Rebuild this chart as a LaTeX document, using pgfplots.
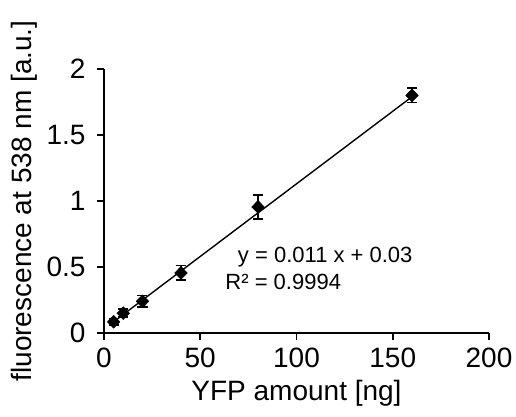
\documentclass[border=0pt]{standalone}
\usepackage{pgfplots}
\pgfplotsset{compat=1.18}
\usepackage{fontspec}
\setmainfont{Liberation Sans}
\begin{document}
\begin{tikzpicture}
\path[use as bounding box] (-104pt,-83pt) rectangle (412pt,333pt);
\begin{axis}[
  at={(0pt,0pt)}, anchor=south west,
  scale only axis, width=385pt, height=264pt,
  xmin=0, xmax=200, ymin=0, ymax=2,
  axis x line*=bottom, axis y line*=left,
  axis line style={line width=1.8pt, -},
  xtick={0,50,...,200}, ytick={0,0.5,1,1.5,2},
  tick align=outside, major tick length=7pt,
  tick style={line width=1.8pt, black},
  /pgf/number format/assume math mode=true,
  ticklabel style={font=\fontsize{28}{30}\selectfont},
  yticklabel style={/pgf/number format/fixed, xshift=-8pt},
  xticklabel style={yshift=-4pt},
  label style={font=\fontsize{28}{30}\selectfont},
  xlabel={YFP amount [ng]},
  ylabel={fluorescence at 538 nm [a.u.]},
  xlabel style={yshift=-6pt},
  ylabel style={yshift=2pt},
  clip=false,
]
\addplot[no marks, line width=1.4pt, black] coordinates {(4,0.074) (160,1.79)};
\addplot[only marks, black, mark=diamond*, mark size=6.5pt,
  mark options={xscale=1.3, fill=black},
  error bars/.cd, y dir=both, y explicit,
  error bar style={line width=1.6pt, black},
  error mark options={rotate=90, mark size=5pt, line width=1.6pt, black}]
  table[x=x, y=y, y error=e] {
x y e
5 0.085 0.025
10 0.15 0.03
20 0.24 0.045
40 0.455 0.055
80 0.955 0.09
160 1.80 0.055
};
\node[anchor=west, font=\fontsize{22}{24}\selectfont, inner sep=0pt] at (axis cs:69.5,0.576) {y = 0.011 x + 0.03};
\node[anchor=west, font=\fontsize{22}{24}\selectfont, inner sep=0pt] at (axis cs:63,0.386) {R² = 0.9994};
\end{axis}
\end{tikzpicture}
\end{document}
